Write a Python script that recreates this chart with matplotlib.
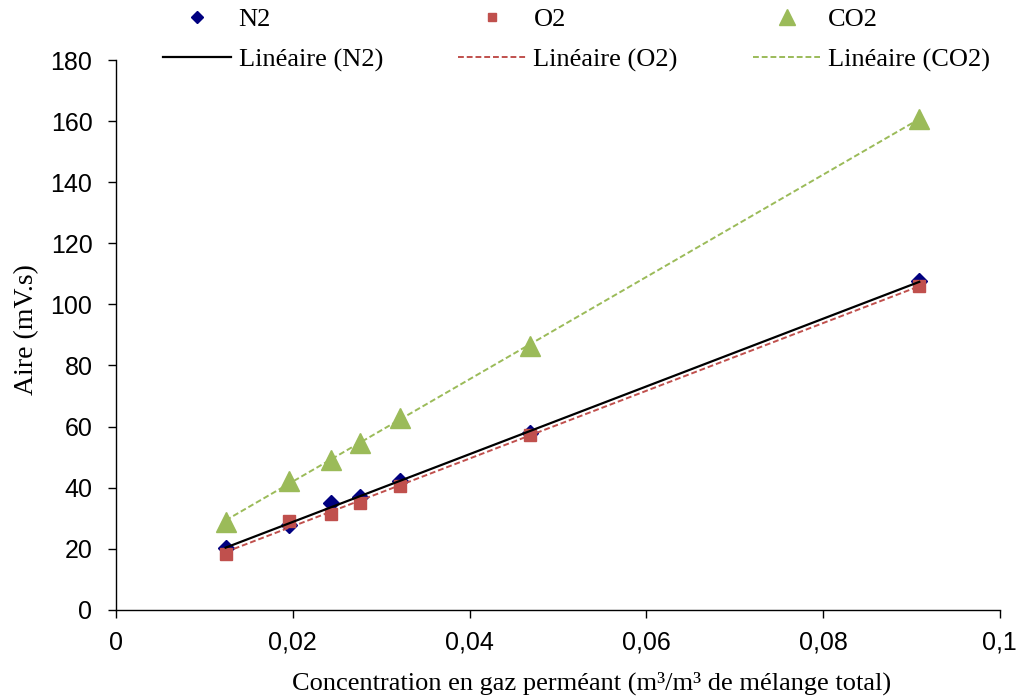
import matplotlib
matplotlib.use("Agg")
import matplotlib.pyplot as plt
import numpy as np
from matplotlib.ticker import FuncFormatter, MultipleLocator

# concentrations (m3/m3) and aires (mV.s)
conc = np.array([0.0124, 0.0196, 0.0243, 0.0276, 0.0321, 0.0469, 0.0909])
aire_n2 = np.array([20.2, 27.8, 34.9, 36.9, 42.3, 57.8, 107.6])
aire_o2 = np.array([18.3, 28.9, 31.3, 35.1, 40.6, 57.3, 106.0])
aire_co2 = np.array([28.6, 42.0, 49.1, 54.7, 62.9, 86.4, 160.8])

serif = "Liberation Serif"
sans = "Liberation Sans"

fig = plt.figure(figsize=(10.18, 7.0), dpi=100)
ax = fig.add_axes([0.114, 0.129, 0.868, 0.785])

series = [
    ("N2", aire_n2, "D", 8.5, "#000080", "black", "-"),
    ("O2", aire_o2, "s", 8, "#C0504D", "#C0504D", "--"),
    ("CO2", aire_co2, "^", 15, "#9BBB59", "#9BBB59", "--"),
]

handles = []
for nom, y, mk, ms, mc, lc, ls in series:
    pts, = ax.plot(conc, y, linestyle="none", marker=mk, markersize=ms,
                   color=mc, label=nom, zorder=3)
    a, b = np.polyfit(conc, y, 1)  # courbe de tendance linéaire
    xx = np.array([conc.min(), conc.max()])
    lin, = ax.plot(xx, a * xx + b, color=lc, linestyle=ls,
                   linewidth=1.6 if ls == "-" else 1.4,
                   dashes=(3, 1.5) if ls == "--" else (None, None),
                   label="Linéaire (%s)" % nom, zorder=4)
    handles += [pts, lin]

ax.set_xlim(0, 0.1)
ax.set_ylim(0, 180)
ax.xaxis.set_major_locator(MultipleLocator(0.02))
ax.yaxis.set_major_locator(MultipleLocator(20))
ax.xaxis.set_major_formatter(FuncFormatter(lambda v, p: ("%g" % round(v, 4)).replace(".", ",")))

for s in ["top", "right"]:
    ax.spines[s].set_visible(False)
for s in ["left", "bottom"]:
    ax.spines[s].set_color("black")
    ax.spines[s].set_linewidth(1)

ax.tick_params(direction="out", length=6, width=1, labelsize=18)
ax.tick_params(axis="x", pad=9)
ax.tick_params(axis="y", pad=11)
for lab in ax.get_xticklabels() + ax.get_yticklabels():
    lab.set_family(sans)

ax.set_xlabel("Concentration en gaz perméant (m³/m³ de mélange total)",
              family=serif, fontsize=19)
ax.xaxis.set_label_coords(0.538, -0.112)
ax.set_ylabel("Aire (mV.s)", family=serif, fontsize=20)
ax.yaxis.set_label_coords(-0.087, 0.51)

leg = fig.legend(handles=handles, ncol=3, loc="upper left",
                 bbox_to_anchor=(0.158, 0.993), frameon=False,
                 prop={"family": serif, "size": 19}, handlelength=2.55,
                 columnspacing=2.85, handletextpad=0.3, labelspacing=0.65,
                 borderpad=0.1, borderaxespad=0, markerscale=0.75,
                 numpoints=1)

fig.savefig("out.png", dpi=100)
